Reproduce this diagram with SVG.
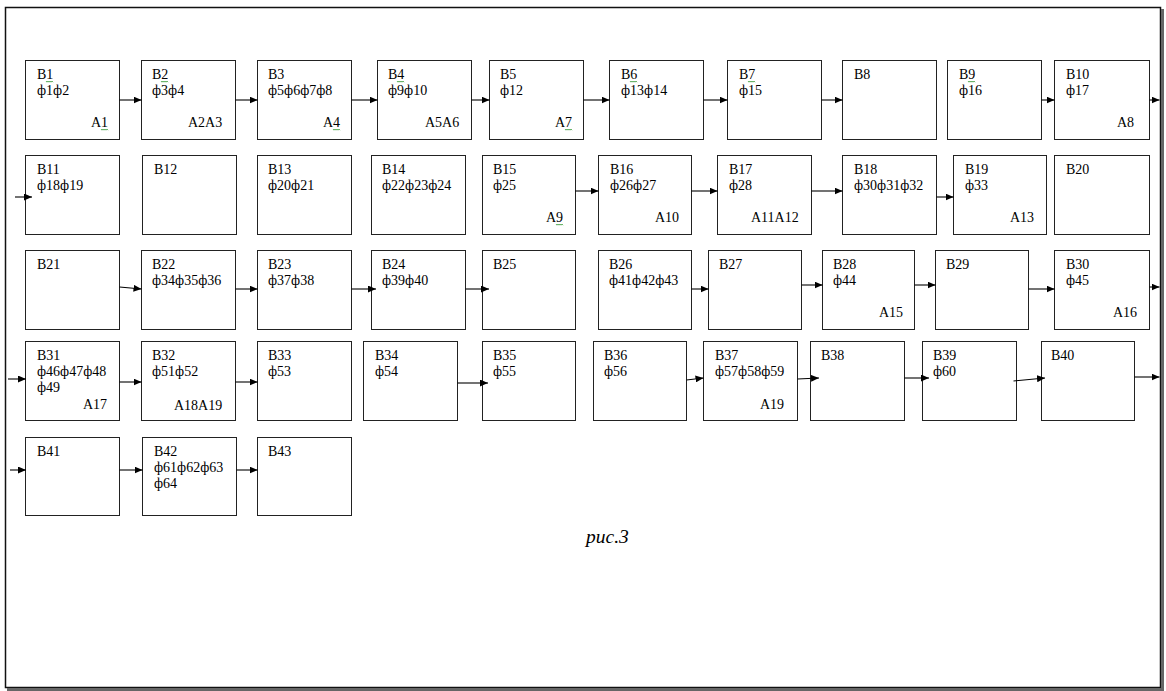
<svg xmlns="http://www.w3.org/2000/svg" xmlns:xlink="http://www.w3.org/1999/xlink" width="1166" height="691" viewBox="0 0 1166 691">
<style>
.box{fill:#fff;stroke:#222;stroke-width:1}
.t{font-family:"Liberation Serif","Times New Roman",serif;font-size:14px;fill:#000}
.cap{font-family:"Liberation Serif","Times New Roman",serif;font-size:19.5px;font-style:italic;fill:#000}
.c{stroke:#000;stroke-width:1.1;fill:none;marker-end:url(#ah)}
.sq{stroke:#3a9a3a;stroke-width:0.8;fill:none}
</style>
<defs>
<marker id="ah" markerWidth="8" markerHeight="7" refX="8" refY="3.5" orient="auto" markerUnits="userSpaceOnUse"><path d="M0,0 L8,3.5 L0,7 z" fill="#000"/></marker>
<path id="sqg" class="sq" d="M0,0 l1,1.2 l1,-1.2 l1,1.2 l1,-1.2 l1,1.2 l1,-1.2 l1,1.2"/>
</defs>
<rect x="0" y="0" width="1166" height="691" fill="#fff"/>
<g id="frame">
<rect x="5.5" y="7.5" width="1155" height="680" fill="#fff" stroke="#111" stroke-width="1.5"/>
<line x1="1162.5" y1="9" x2="1162.5" y2="690" stroke="#666" stroke-width="3"/>
<line x1="7" y1="689.5" x2="1164" y2="689.5" stroke="#666" stroke-width="3"/>
</g>
<g id="B1"><rect class="box" x="25.5" y="60.5" width="94" height="79"/><text class="t" x="37" y="78.5">B1</text><text class="t" x="37" y="94.5">ф1ф2</text><text class="t" x="91" y="126.5">A1</text></g>
<g id="B2"><rect class="box" x="141.5" y="60.5" width="94" height="79"/><text class="t" x="152" y="78.5">B2</text><text class="t" x="152" y="94.5">ф3ф4</text><text class="t" x="188" y="126.5">A2A3</text></g>
<g id="B3"><rect class="box" x="257.5" y="60.5" width="94" height="79"/><text class="t" x="268" y="78.5">B3</text><text class="t" x="268" y="94.5">ф5ф6ф7ф8</text><text class="t" x="323" y="126.5">A4</text></g>
<g id="B4"><rect class="box" x="377.5" y="60.5" width="94" height="79"/><text class="t" x="388" y="78.5">B4</text><text class="t" x="388" y="94.5">ф9ф10</text><text class="t" x="425" y="126.5">A5A6</text></g>
<g id="B5"><rect class="box" x="489.5" y="60.5" width="94" height="79"/><text class="t" x="500" y="78.5">B5</text><text class="t" x="500" y="94.5">ф12</text><text class="t" x="555" y="126.5">A7</text></g>
<g id="B6"><rect class="box" x="609.5" y="60.5" width="94" height="79"/><text class="t" x="621" y="78.5">B6</text><text class="t" x="621" y="94.5">ф13ф14</text></g>
<g id="B7"><rect class="box" x="727.5" y="60.5" width="94" height="79"/><text class="t" x="739" y="78.5">B7</text><text class="t" x="739" y="94.5">ф15</text></g>
<g id="B8"><rect class="box" x="842.5" y="60.5" width="94" height="79"/><text class="t" x="854" y="78.5">B8</text></g>
<g id="B9"><rect class="box" x="947.5" y="60.5" width="94" height="79"/><text class="t" x="959" y="78.5">B9</text><text class="t" x="959" y="94.5">ф16</text></g>
<g id="B10"><rect class="box" x="1054.5" y="60.5" width="95" height="79"/><text class="t" x="1066" y="78.5">B10</text><text class="t" x="1066" y="94.5">ф17</text><text class="t" x="1117" y="126.5">A8</text></g>
<g id="B11"><rect class="box" x="25.5" y="155.5" width="94" height="79"/><text class="t" x="37" y="173.5">B11</text><text class="t" x="37" y="189.5">ф18ф19</text></g>
<g id="B12"><rect class="box" x="142.5" y="155.5" width="94" height="79"/><text class="t" x="154" y="173.5">B12</text></g>
<g id="B13"><rect class="box" x="257.5" y="155.5" width="94" height="79"/><text class="t" x="268" y="173.5">B13</text><text class="t" x="268" y="189.5">ф20ф21</text></g>
<g id="B14"><rect class="box" x="371.5" y="155.5" width="94" height="79"/><text class="t" x="382" y="173.5">B14</text><text class="t" x="382" y="189.5">ф22ф23ф24</text></g>
<g id="B15"><rect class="box" x="482.5" y="155.5" width="93" height="79"/><text class="t" x="493" y="173.5">B15</text><text class="t" x="493" y="189.5">ф25</text><text class="t" x="546" y="221.5">A9</text></g>
<g id="B16"><rect class="box" x="598.5" y="155.5" width="93" height="79"/><text class="t" x="610" y="173.5">B16</text><text class="t" x="610" y="189.5">ф26ф27</text><text class="t" x="655" y="221.5">A10</text></g>
<g id="B17"><rect class="box" x="717.5" y="155.5" width="94" height="79"/><text class="t" x="729" y="173.5">B17</text><text class="t" x="729" y="189.5">ф28</text><text class="t" x="751" y="221.5">A11A12</text></g>
<g id="B18"><rect class="box" x="842.5" y="155.5" width="94" height="79"/><text class="t" x="854" y="173.5">B18</text><text class="t" x="854" y="189.5">ф30ф31ф32</text></g>
<g id="B19"><rect class="box" x="953.5" y="155.5" width="93" height="79"/><text class="t" x="965" y="173.5">B19</text><text class="t" x="965" y="189.5">ф33</text><text class="t" x="1010" y="221.5">A13</text></g>
<g id="B20"><rect class="box" x="1054.5" y="155.5" width="95" height="79"/><text class="t" x="1066" y="173.5">B20</text></g>
<g id="B21"><rect class="box" x="25.5" y="250.5" width="94" height="79"/><text class="t" x="37" y="268.5">B21</text></g>
<g id="B22"><rect class="box" x="141.5" y="250.5" width="94" height="79"/><text class="t" x="152" y="268.5">B22</text><text class="t" x="152" y="284.5">ф34ф35ф36</text></g>
<g id="B23"><rect class="box" x="257.5" y="250.5" width="94" height="79"/><text class="t" x="268" y="268.5">B23</text><text class="t" x="268" y="284.5">ф37ф38</text></g>
<g id="B24"><rect class="box" x="371.5" y="250.5" width="94" height="79"/><text class="t" x="382" y="268.5">B24</text><text class="t" x="382" y="284.5">ф39ф40</text></g>
<g id="B25"><rect class="box" x="482.5" y="250.5" width="93" height="79"/><text class="t" x="493" y="268.5">B25</text></g>
<g id="B26"><rect class="box" x="598.5" y="250.5" width="93" height="79"/><text class="t" x="609" y="268.5">B26</text><text class="t" x="609" y="284.5">ф41ф42ф43</text></g>
<g id="B27"><rect class="box" x="708.5" y="250.5" width="93" height="79"/><text class="t" x="719" y="268.5">B27</text></g>
<g id="B28"><rect class="box" x="822.5" y="250.5" width="92" height="79"/><text class="t" x="833" y="268.5">B28</text><text class="t" x="833" y="284.5">ф44</text><text class="t" x="879" y="316.5">A15</text></g>
<g id="B29"><rect class="box" x="935.5" y="250.5" width="93" height="79"/><text class="t" x="946" y="268.5">B29</text></g>
<g id="B30"><rect class="box" x="1054.5" y="250.5" width="95" height="79"/><text class="t" x="1066" y="268.5">B30</text><text class="t" x="1066" y="284.5">ф45</text><text class="t" x="1113" y="316.5">A16</text></g>
<g id="B31"><rect class="box" x="25.5" y="341.5" width="94" height="79"/><text class="t" x="37" y="359.5">B31</text><text class="t" x="37" y="375.5">ф46ф47ф48</text><text class="t" x="37" y="391.5">ф49</text><text class="t" x="83" y="408.5">A17</text></g>
<g id="B32"><rect class="box" x="141.5" y="341.5" width="94" height="79"/><text class="t" x="152" y="359.5">B32</text><text class="t" x="152" y="375.5">ф51ф52</text><text class="t" x="174" y="410">A18A19</text></g>
<g id="B33"><rect class="box" x="257.5" y="341.5" width="94" height="79"/><text class="t" x="268" y="359.5">B33</text><text class="t" x="268" y="375.5">ф53</text></g>
<g id="B34"><rect class="box" x="363.5" y="341.5" width="94" height="79"/><text class="t" x="375" y="359.5">B34</text><text class="t" x="375" y="375.5">ф54</text></g>
<g id="B35"><rect class="box" x="482.5" y="341.5" width="93" height="79"/><text class="t" x="493" y="359.5">B35</text><text class="t" x="493" y="375.5">ф55</text></g>
<g id="B36"><rect class="box" x="593.5" y="341.5" width="93" height="79"/><text class="t" x="604" y="359.5">B36</text><text class="t" x="604" y="375.5">ф56</text></g>
<g id="B37"><rect class="box" x="703.5" y="341.5" width="94" height="79"/><text class="t" x="715" y="359.5">B37</text><text class="t" x="715" y="375.5">ф57ф58ф59</text><text class="t" x="760" y="408.5">A19</text></g>
<g id="B38"><rect class="box" x="810.5" y="341.5" width="94" height="79"/><text class="t" x="821" y="359.5">B38</text></g>
<g id="B39"><rect class="box" x="922.5" y="341.5" width="94" height="79"/><text class="t" x="933" y="359.5">B39</text><text class="t" x="933" y="375.5">ф60</text></g>
<g id="B40"><rect class="box" x="1041.5" y="341.5" width="93" height="79"/><text class="t" x="1051" y="359.5">B40</text></g>
<g id="B41"><rect class="box" x="25.5" y="437.5" width="94" height="78"/><text class="t" x="37" y="455.5">B41</text></g>
<g id="B42"><rect class="box" x="142.5" y="437.5" width="94" height="78"/><text class="t" x="154" y="455.5">B42</text><text class="t" x="154" y="471.5">ф61ф62ф63</text><text class="t" x="154" y="487.5">ф64</text></g>
<g id="B43"><rect class="box" x="257.5" y="437.5" width="94" height="78"/><text class="t" x="268" y="455.5">B43</text></g>
<g id="connectors">
<line class="c" x1="119.5" y1="100" x2="141.5" y2="100"/>
<line class="c" x1="235.5" y1="100" x2="257.5" y2="100"/>
<line class="c" x1="351.5" y1="100" x2="377.5" y2="100"/>
<line class="c" x1="471.5" y1="100" x2="489.5" y2="100"/>
<line class="c" x1="583.5" y1="100" x2="609.5" y2="100"/>
<line class="c" x1="703.5" y1="100" x2="727.5" y2="100"/>
<line class="c" x1="821.5" y1="100" x2="842.5" y2="100"/>
<line class="c" x1="1041.5" y1="100" x2="1054.5" y2="100"/>
<line class="c" x1="1149.5" y1="100" x2="1159.5" y2="100"/>
<line class="c" x1="15" y1="197" x2="32" y2="197"/>
<line class="c" x1="575.5" y1="191" x2="598.5" y2="191"/>
<line class="c" x1="691.5" y1="191" x2="717.5" y2="191"/>
<line class="c" x1="811.5" y1="191" x2="842.5" y2="191"/>
<line class="c" x1="936.5" y1="197" x2="953.5" y2="197"/>
<line class="c" x1="119.5" y1="287" x2="141.5" y2="289"/>
<line class="c" x1="235.5" y1="289" x2="257.5" y2="289"/>
<line class="c" x1="351.5" y1="289" x2="376" y2="289"/>
<line class="c" x1="465.5" y1="289" x2="489" y2="289"/>
<line class="c" x1="691.5" y1="289" x2="708.5" y2="289"/>
<line class="c" x1="801.5" y1="285" x2="822.5" y2="285"/>
<line class="c" x1="914.5" y1="285" x2="935.5" y2="285"/>
<line class="c" x1="1028.5" y1="289" x2="1054.5" y2="289"/>
<line class="c" x1="1149.5" y1="287" x2="1159.5" y2="287"/>
<line class="c" x1="8" y1="379" x2="26" y2="379"/>
<line class="c" x1="119.5" y1="382" x2="141.5" y2="382"/>
<line class="c" x1="235.5" y1="382" x2="257.5" y2="382"/>
<line class="c" x1="457.5" y1="383" x2="488" y2="383"/>
<line class="c" x1="686.5" y1="380" x2="703.5" y2="378"/>
<line class="c" x1="797.5" y1="379" x2="819" y2="378"/>
<line class="c" x1="904.5" y1="378" x2="929" y2="378"/>
<line class="c" x1="1013.5" y1="381" x2="1045" y2="378"/>
<line class="c" x1="1134.5" y1="377" x2="1159.5" y2="377"/>
<line class="c" x1="10" y1="470" x2="26" y2="470"/>
<line class="c" x1="119.5" y1="470" x2="142.5" y2="470"/>
<line class="c" x1="236.5" y1="470" x2="257.5" y2="470"/>
</g>
<g id="spellcheck">
<use xlink:href="#sqg" x="46" y="81"/>
<use xlink:href="#sqg" x="161" y="81"/>
<use xlink:href="#sqg" x="397" y="81"/>
<use xlink:href="#sqg" x="630" y="81"/>
<use xlink:href="#sqg" x="748" y="81"/>
<use xlink:href="#sqg" x="968" y="81"/>
<use xlink:href="#sqg" x="101" y="129"/>
<use xlink:href="#sqg" x="333" y="129"/>
<use xlink:href="#sqg" x="565" y="129"/>
<use xlink:href="#sqg" x="556" y="224"/>
</g>
<text class="cap" x="586" y="543">рис.3</text>
</svg>
